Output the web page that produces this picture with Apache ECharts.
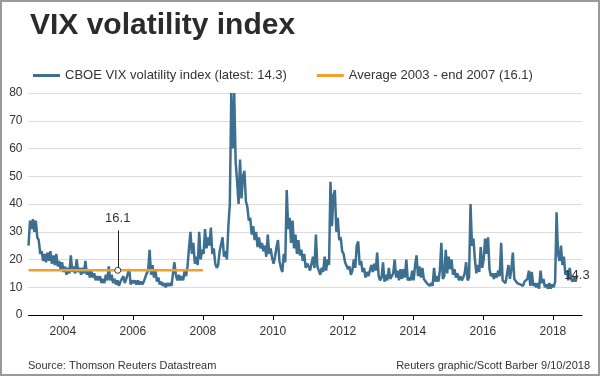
<!DOCTYPE html>
<html>
<head>
<meta charset="utf-8">
<script src="https://cdn.jsdelivr.net/npm/echarts@6/dist/echarts.min.js"></script>
<style>
html, body { margin: 0; padding: 0; background: #fff; }
#chart { width: 600px; height: 376px; }
</style>
</head>
<body>
<div id="chart"></div>
<script>
// VIX, about twice a month (1st and 15th of each month),
// alternating the low and high edge of the noisy band where the line is thick
var vix2003 = [25, 34, 31, 34.5, 30, 34, 28, 27, 22, 23, 19.5, 22, 19, 22.5, 19.5, 23, 18.5, 21.5, 18, 22, 17.5, 19.5, 16.5, 19];
var vix2004 = [15.5, 17.5, 14.5, 17, 15, 21.5, 15.5, 17.5, 15, 20, 15.5, 17, 14.5, 17, 15, 19.5, 14.5, 16.5, 13.5, 16, 13.5, 15, 12.5, 14];
var vix2005 = [12.5, 14, 11.5, 13, 11.5, 14.5, 12.5, 17.5, 12.5, 14.5, 11.5, 13, 11, 12.5, 10.5, 12, 11.5, 14, 11.5, 13, 12.5, 16.5, 11, 12.5];
var vix2006 = [11.5, 12.5, 11, 12.5, 11, 12, 11, 12, 11.5, 15, 16, 23.5, 14.5, 18, 13.5, 16, 12, 13.5, 11, 12, 10.5, 11.5, 10, 11.5];
var vix2007 = [10.5, 11.5, 10.5, 11, 19, 14.5, 12.5, 14.5, 12.5, 14, 12.5, 16, 14, 17.5, 24, 30, 22, 26, 18.5, 21, 18, 30, 20, 23.5];
var vix2008 = [22, 31, 24, 28, 25, 31.5, 22, 24, 18.5, 17, 18, 23, 22.5, 28, 21, 23, 20, 32, 40, 80, 60, 80, 55, 48];
var vix2009 = [40, 56, 42, 50, 52, 41, 39, 34, 35, 29, 32, 27, 30, 24.5, 28, 24, 26, 23, 25, 21, 29, 22, 24, 20.5];
var vix2010 = [18.5, 21, 24.5, 27, 19.5, 17, 15.5, 22, 19, 45, 31, 35, 26, 34, 24, 29, 22, 27, 21.5, 23.5, 19.5, 22, 17, 18.5];
var vix2011 = [17.5, 16, 15.5, 21, 17, 29, 17.5, 16, 14.5, 17, 15.5, 21, 16, 20, 18, 48, 32, 43, 45, 30, 35, 27, 28, 23];
var vix2012 = [22, 19, 18.5, 16.5, 17.5, 14.5, 16, 20, 17, 25, 26.5, 18, 19.5, 15.5, 17, 13.5, 15.5, 14, 16, 18, 15.5, 18.5, 16, 22.5];
var vix2013 = [14, 12.5, 13.5, 19, 12, 14.5, 12.5, 17, 13, 14, 15, 20, 13.5, 16, 12.5, 16.5, 13, 16.5, 13.5, 20, 12.5, 13.5, 12.5, 16];
var vix2014 = [12.5, 18, 21.5, 14, 17.5, 13.5, 17, 13, 12.5, 11.5, 12, 10.5, 11.5, 10.5, 17, 12, 14, 12, 16, 26, 13, 14, 23.5, 15];
var vix2015 = [21, 16.5, 20, 14.5, 16.5, 13.5, 15, 12.5, 14, 12.5, 13.5, 15, 19, 12.5, 13.5, 40, 25, 27.5, 20, 15, 18, 15.5, 24.5, 17];
var vix2016 = [20, 27.5, 22, 28, 16.5, 14, 15, 13, 15, 13.5, 16, 14, 26, 12.5, 13, 11.5, 12, 18, 13, 16.5, 22.5, 13, 12.5, 11.5];
var vix2017 = [12, 11, 11.5, 10.5, 12, 11.5, 13, 16, 10.5, 15.5, 10.5, 11.5, 10, 11.5, 9.5, 16, 11.5, 13, 10, 11, 9.5, 11.5, 9.5, 11];
var vix2018 = [10, 12, 37, 22, 19.5, 25, 18, 21, 14.5, 16, 12.5, 17, 13, 12, 13.5, 12, 14.3];

var years = [2003, 2004, 2005, 2006, 2007, 2008, 2009, 2010, 2011, 2012, 2013, 2014, 2015, 2016, 2017, 2018];
var vixByYear = [vix2003, vix2004, vix2005, vix2006, vix2007, vix2008, vix2009, vix2010,
                 vix2011, vix2012, vix2013, vix2014, vix2015, vix2016, vix2017, vix2018];

var avgValue = 16.1;
var avgFrom = 2003.02, avgTo = 2008.0;   // 2003 - end 2007
var calloutAt = 2005.57;                 // where the 16.1 callout sits
var yearTicks = [2004, 2006, 2008, 2010, 2012, 2014, 2016, 2018];

var nameVix = 'CBOE VIX volatility index (latest: 14.3)';
var nameAvg = 'Average 2003 - end 2007 (16.1)';

// half-month slots -> fractional year
var vixData = [];
years.forEach(function (y, k) {
    vixByYear[k].forEach(function (v, i) {
        vixData.push([y + (i + 0.5) / 24, v]);
    });
});
var last = vixData[vixData.length - 1];

var chart = echarts.init(document.getElementById('chart'));

var option = {
    animation: false,
    textStyle: { fontFamily: 'Liberation Sans, Arial, sans-serif' },
    title: {
        text: 'VIX volatility index',
        left: 25,
        top: 6,
        textStyle: { fontSize: 30, fontWeight: 'bold', color: '#2b2b2b' }
    },
    legend: {
        left: 28,
        top: 64,
        icon: 'rect',
        itemWidth: 27,
        itemHeight: 3,
        itemGap: 30,
        textStyle: { fontSize: 13, color: '#333' },
        data: [nameVix, nameAvg]
    },
    grid: { left: 28.5, right: 18, top: 93, bottom: 61 },
    xAxis: {
        type: 'value',
        min: 2003.02,
        max: 2018.83,
        splitLine: { show: false },
        axisLine: { lineStyle: { color: '#000', width: 1 } },
        axisTick: { customValues: yearTicks, length: 5, lineStyle: { color: '#000' } },
        axisLabel: {
            customValues: yearTicks,
            fontSize: 12,
            color: '#333',
            margin: 11,
            formatter: function (v) { return String(Math.round(v)); }
        }
    },
    yAxis: {
        type: 'value',
        min: 0,
        max: 80,
        interval: 10,
        axisLine: { show: false },
        axisTick: { show: false },
        axisLabel: { fontSize: 12, color: '#333', margin: 6 },
        splitLine: { lineStyle: { color: '#dcdcdc', width: 1 } }
    },
    series: [
        {
            name: nameVix,
            type: 'line',
            data: vixData,
            showSymbol: false,
            clip: true,
            color: '#3d6f90',
            lineStyle: { width: 2.5, color: '#3d6f90' },
            markPoint: {
                symbol: 'circle',
                symbolSize: 1,
                itemStyle: { color: 'rgba(0,0,0,0)' },
                label: { show: true, position: 'inside', formatter: String(last[1]), fontSize: 13, color: '#333' },
                data: [{ coord: last }]
            }
        },
        {
            name: nameAvg,
            type: 'line',
            data: [[avgFrom, avgValue], [avgTo, avgValue]],
            showSymbol: false,
            color: '#f0a12b',
            lineStyle: { width: 2.5, color: '#f0a12b' },
            z: 3,
            markLine: {
                silent: true,
                symbol: ['none', 'none'],
                lineStyle: { color: '#222', width: 1, type: 'solid' },
                label: { show: true, position: 'end', formatter: String(avgValue), fontSize: 13, color: '#333' },
                data: [[{ coord: [calloutAt, avgValue + 1.1] }, { coord: [calloutAt, 30.5] }]]
            },
            markPoint: {
                symbol: 'circle',
                symbolSize: 6,
                itemStyle: { color: '#fff', borderColor: '#333', borderWidth: 1 },
                label: { show: false },
                data: [{ coord: [calloutAt, avgValue] }]
            }
        }
    ],
    graphic: [
        {
            type: 'rect',
            shape: { x: 1, y: 1, width: 598, height: 374 },
            style: { fill: 'none', stroke: '#999', lineWidth: 2 },
            silent: true
        },
        {
            type: 'text',
            left: 28,
            top: 360,
            style: { text: 'Source: Thomson Reuters Datastream', fill: '#333', font: '11px "Liberation Sans", Arial, sans-serif' }
        },
        {
            type: 'text',
            right: 10,
            top: 360,
            style: { text: 'Reuters graphic/Scott Barber 9/10/2018', fill: '#333', font: '11px "Liberation Sans", Arial, sans-serif' }
        }
    ]
};

chart.setOption(option);
</script>
</body>
</html>
